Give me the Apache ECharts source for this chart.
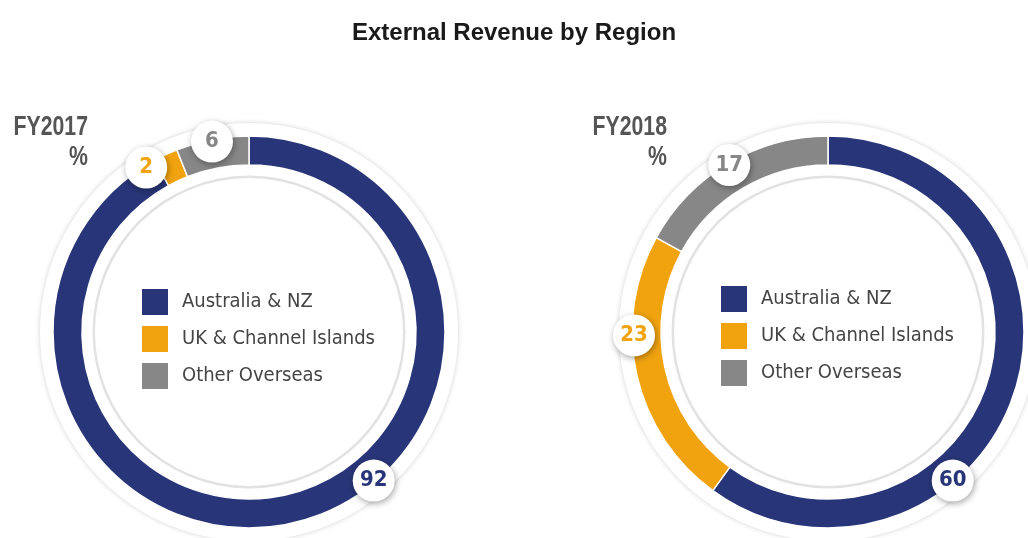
<!DOCTYPE html>
<html><head><meta charset="utf-8">
<script src="https://cdn.jsdelivr.net/npm/echarts@6/dist/echarts.min.js"></script>
<style>html,body{margin:0;padding:0;background:#fff}#c{width:1028px;height:538px}</style>
</head><body><div id="c"></div>
<script>
// ---- data ----
const chartTitle = 'External Revenue by Region';
const categories = ['Australia & NZ', 'UK & Channel Islands', 'Other Overseas'];
const fy2017 = [92, 2, 6];
const fy2018 = [60, 23, 17];
const panelTitles = ['FY2017', 'FY2018'];
const unitLabel = '%';

// ---- style / layout ----
const colors = ['#283578', '#F0A30F', '#878787'];
const condensed = "'DejaVu Sans Condensed',Roboto,sans-serif";
const centers = [[249, 332], [828, 332]];
const rInner = 167, rOuter = 196, rBubble = 194;
// label bubble angle overrides (degrees clockwise from 12 o'clock); null = slice middle
const bubbleAngles = [[140, 328, 349], [140, 269, null]];

const chart = echarts.init(document.getElementById('c'), null, {renderer: 'canvas'});

function makeLabelLayout(values, center, overrides) {
  const total = values.reduce((a, b) => a + b, 0);
  return function (p) {
    const i = p.dataIndex;
    let start = 0;
    for (let k = 0; k < i; k++) start += values[k];
    let ang = (start + values[i] / 2) / total * 360;
    if (overrides[i] != null) ang = overrides[i];
    const rad = ang * Math.PI / 180;
    return {
      x: center[0] + rBubble * Math.sin(rad),
      y: center[1] - rBubble * Math.cos(rad),
      align: 'center',
      verticalAlign: 'middle'
    };
  };
}

const series = [];
[fy2017, fy2018].forEach((vals, si) => {
  const c = centers[si];
  series.push({
    type: 'pie', silent: true, center: c, radius: [0, 209], z: 0,
    label: {show: false}, labelLine: {show: false}, emphasis: {disabled: true},
    itemStyle: {color: '#fff', shadowBlur: 5, shadowColor: 'rgba(0,0,0,0.18)'},
    data: [{value: 1, name: '_bg' + si}], legendHoverLink: false
  });
  series.push({
    type: 'pie', silent: true, center: c, radius: [154, 156.5], z: 1,
    label: {show: false}, labelLine: {show: false}, emphasis: {disabled: true},
    itemStyle: {color: '#e2e2e2'},
    data: [{value: 1, name: '_ring' + si}]
  });
  series.push({
    type: 'pie', center: c, radius: [rInner, rOuter], z: 2,
    startAngle: 90, clockwise: true, silent: true,
    emphasis: {disabled: true},
    itemStyle: {borderColor: '#fff', borderWidth: 1.5},
    labelLine: {show: false},
    label: {
      show: true, position: 'inside', formatter: '{c}',
      fontFamily: condensed, fontSize: 22, fontWeight: 'bold',
      backgroundColor: '#fff', width: 42, height: 42, lineHeight: 42,
      borderRadius: 21, align: 'center',
      shadowBlur: 6, shadowColor: 'rgba(0,0,0,0.35)', shadowOffsetX: 1, shadowOffsetY: 2
    },
    labelLayout: makeLabelLayout(vals, c, bubbleAngles[si]),
    data: categories.map((n, i) => ({
      name: n, value: vals[i],
      itemStyle: {color: colors[i]},
      label: {color: colors[i]}
    }))
  });
});

const legendCommon = {
  data: categories, orient: 'vertical', icon: 'rect', padding: 0,
  itemWidth: 28, itemHeight: 28, itemGap: 7, selectedMode: false,
  textStyle: {fontFamily: condensed, fontSize: 20, color: '#444', padding: [0, 0, 0, 8]}
};

chart.setOption({
  animation: false,
  backgroundColor: '#fff',
  color: colors,
  title: {
    text: chartTitle, left: 'center', top: 16,
    textStyle: {fontFamily: "'Liberation Sans',Arial,sans-serif", fontSize: 24, fontWeight: 'bold', color: '#1a1a1a'}
  },
  legend: [
    Object.assign({left: 140, top: 287}, legendCommon),
    Object.assign({left: 719, top: 284}, legendCommon)
  ],
  graphic: panelTitles.map((t, i) => ({
    type: 'text', z: 10,
    x: [88, 667][i], y: 112, scaleX: 0.76,
    style: {
      text: t + '\n' + unitLabel, textAlign: 'right', textVerticalAlign: 'top',
      font: "bold 28px 'Liberation Sans',Arial,sans-serif", lineHeight: 30, fill: '#555'
    }
  })),
  series: series
});
</script></body></html>
